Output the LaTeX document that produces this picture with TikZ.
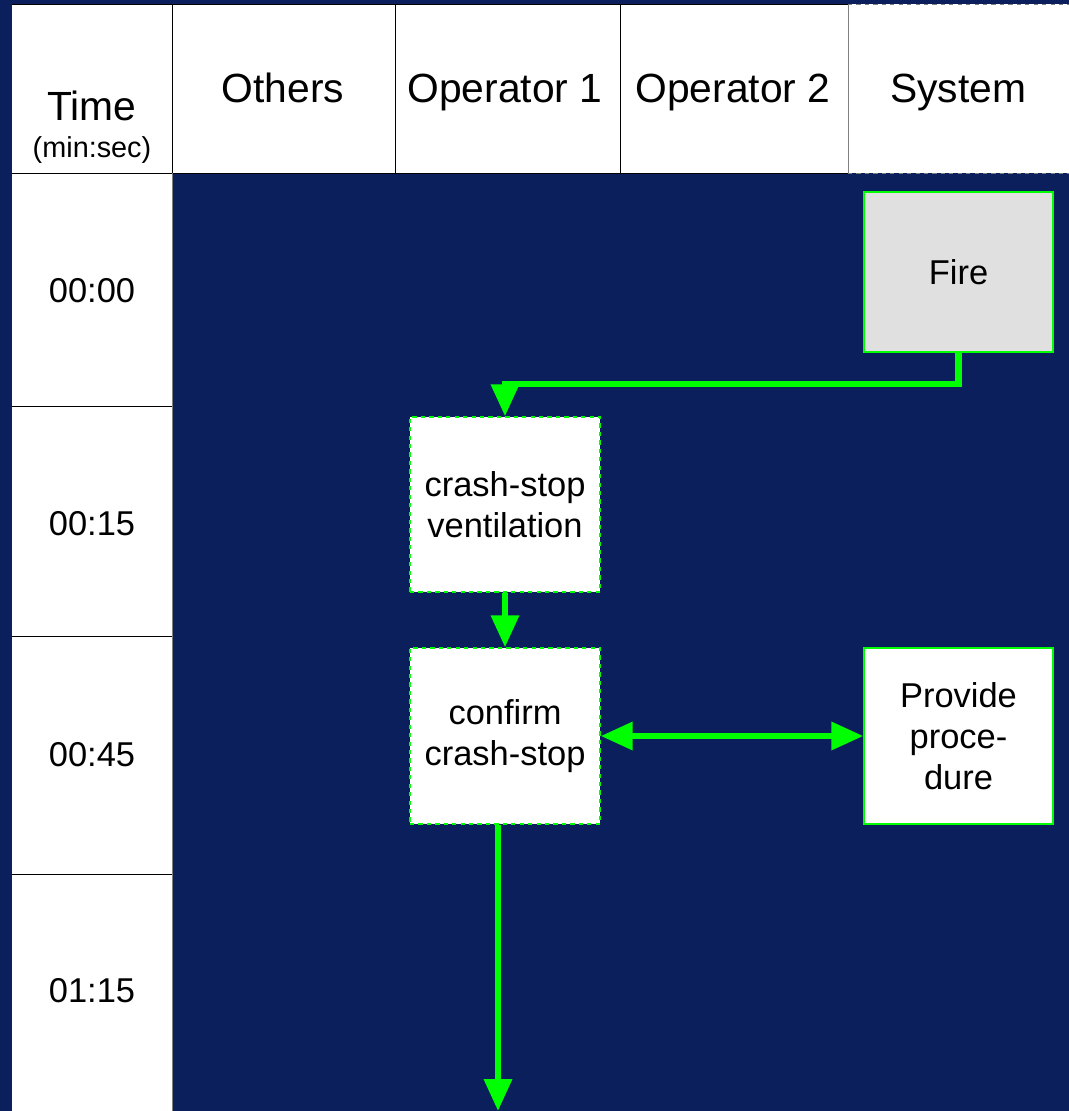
\documentclass[tikz,border=0pt]{standalone}
\usepackage{fontspec}
\setmainfont{Liberation Sans}
\usepackage{tikz}
\usetikzlibrary{positioning, arrows.meta}
\definecolor{navy}{RGB}{10,31,92}
\definecolor{flowgreen}{RGB}{0,255,0}
\definecolor{firegrey}{RGB}{224,224,224}

\begin{document}
\begin{tikzpicture} [x = 0.025cm, y = -0.025cm,
			every node/.style = {align = center},
			head/.style = {anchor = base, font = \fontsize{29}{34}\selectfont},
			tlabel/.style = {anchor = base, font = \fontsize{24.5}{28}\selectfont},
			task/.style = {draw = flowgreen, line width = 1pt, fill = white,
				minimum width = 4.75cm, minimum height = 4.4cm,
				font = \fontsize{24.5}{29}\selectfont},
			flow/.style = {draw = flowgreen, line width = 4.3pt,
				-{Triangle[width = 0.68cm, length = 0.8cm]}}
			]
			% Frame
			\useasboundingbox (0,0) rectangle (1069,1111);
			\fill [navy] (0,0) rectangle (1069,1111);
			% Header row
			\fill [white] (12,4) rectangle (1069,173);
			\fill [white] (12,173) rectangle (172,1111);
			\draw [black, line width = 0.6pt] (12,4) -- (848,4) (12,173) -- (848,173);
			\draw [gray, line width = 0.6pt, dashed] (848,4) -- (1069,4) (848,173) -- (1069,173);
			\draw [black, line width = 0.6pt] (172,4) -- (172,173) (395,4) -- (395,173) (620,4) -- (620,173);
			\draw [gray, line width = 0.6pt] (848,4) -- (848,173) (172,173) -- (172,1111);
			\draw [black, line width = 0.6pt] (12,406) -- (172,406) (12,636) -- (172,636) (12,874) -- (172,874);
			\node (time) [head] at (92,120) {Time};
			\node (unit) [anchor = base, font = \fontsize{20.5}{24}\selectfont] at (92,157) {(min:sec)};
			\node (others) [head] at (283,102) {Others};
			\node (op1) [head] at (505,102) {Operator 1};
			\node (op2) [head] at (733,102) {Operator 2};
			\node (sys) [head] at (958,102) {System};
			% Time rows
			\node (t0) [tlabel] at (92,302.5) {00:00};
			\node (t1) [tlabel] at (92,535.5) {00:15};
			\node (t2) [tlabel] at (92,766.5) {00:45};
			\node (t3) [tlabel] at (92,1002) {01:15};
			% Tasks
			\node (fire) [task, fill = firegrey, minimum width = 4.725cm, minimum height = 4cm] at (958.5,272) {Fire};
			\node (crash) [task, dashed, minimum height = 4.375cm] at (505,504.5) {crash-stop\\ventilation};
			\node (confirm) [task, dashed] at (505,736) {confirm\\crash-stop};
			\node (provide) [task, minimum width = 4.725cm] at (958.5,736) {Provide\\proce-\\dure};
			\coordinate (out) at (498,1111);
			% Flows
			\draw [flow] (fire.south) -- ++(0,31) -| (crash.north);
			\draw [flow] (crash) -- (confirm);
			\draw [flow, {Triangle[width = 0.68cm, length = 0.8cm]}-{Triangle[width = 0.68cm, length = 0.8cm]}] (confirm) -- (provide);
			\draw [flow] (confirm.south -| out) -- (out);
		\end{tikzpicture}
\end{document}
